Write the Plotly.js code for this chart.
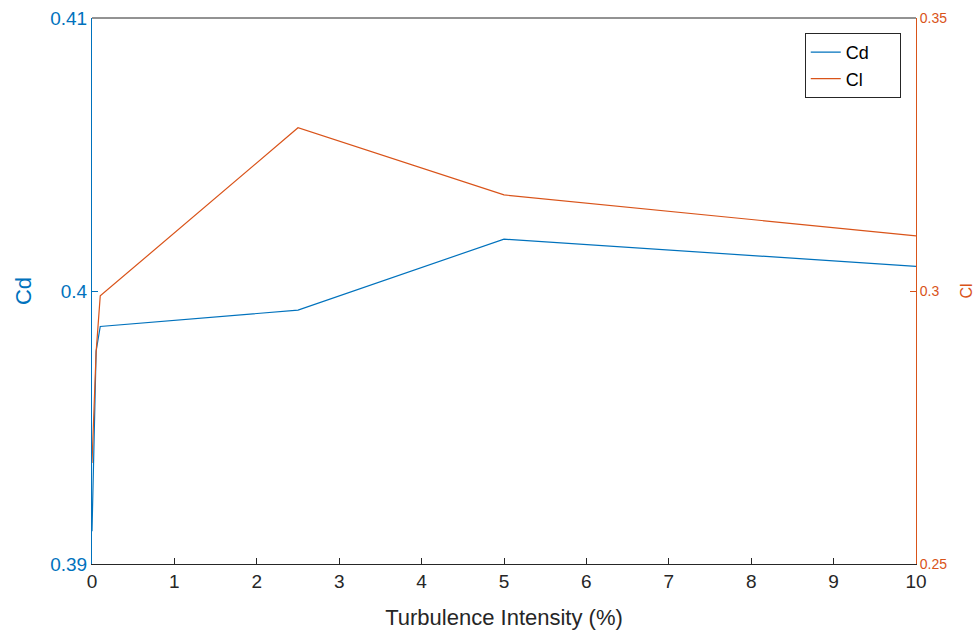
<!DOCTYPE html>
<html><head><meta charset="utf-8">
<script src="https://cdn.plot.ly/plotly-3.0.1.min.js"></script>
<style>body{margin:0;background:#fff}#chart{width:980px;height:636px}</style>
</head><body><div id="chart"></div>
<script>
const turbulence = [0, 0.05, 0.1, 2.5, 5, 10];
const cdValues = [0.3912, 0.3978, 0.3987, 0.3993, 0.4019, 0.4009];
const clValues = [0.2685, 0.2888, 0.2991, 0.3299, 0.3176, 0.3101];
const xTicks = [0,1,2,3,4,5,6,7,8,9,10];
const cdTicks = [0.39, 0.40, 0.41];
const cdTickText = ['0.39', '0.4', '0.41'];
const clTicks = [0.25, 0.30, 0.35];
const clTickText = ['0.25', '0.3', '0.35'];
const seriesNames = ['Cd', 'Cl'];

const blue = '#0072BD', orange = '#D95319', dark = '#262626';
const font = 'Liberation Sans, Arial, Helvetica, sans-serif';
const pad = '\u00a0\u00a0\u00a0\u00a0\u00a0';

const traces = [
  {x: turbulence, y: cdValues, name: seriesNames[0] + pad, mode: 'lines', line: {color: blue, width: 1.2}, yaxis: 'y'},
  {x: turbulence, y: clValues, name: seriesNames[1] + pad + '\u00a0', mode: 'lines', line: {color: orange, width: 1.2}, yaxis: 'y2'}
];

const layout = {
  width: 980, height: 636,
  margin: {l: 92, r: 64, t: 18, b: 72},
  paper_bgcolor: '#fff', plot_bgcolor: '#fff',
  font: {family: font, color: dark},
  showlegend: true,
  legend: {x: 0.865, y: 0.9725, xanchor: 'left', yanchor: 'top', bgcolor: '#fff',
           bordercolor: dark, borderwidth: 1, font: {size: 18, color: '#000'}, tracegroupgap: 0},
  xaxis: {range: [0, 10], tickvals: xTicks, ticks: 'inside', ticklen: 6, tickcolor: dark,
          showline: true, linecolor: dark, linewidth: 1, showgrid: false, zeroline: false,
          tickfont: {size: 19, color: dark},
          title: {text: 'Turbulence Intensity (%)', font: {size: 22, color: dark}, standoff: 18}},
  yaxis: {range: [0.39, 0.41], tickvals: cdTicks, ticktext: cdTickText, ticks: 'inside', ticklen: 6,
          tickcolor: blue, showline: true, linecolor: blue, linewidth: 1, showgrid: false, zeroline: false,
          tickfont: {size: 19, color: blue},
          title: {text: 'Cd', font: {size: 22, color: blue}, standoff: 12}},
  yaxis2: {range: [0.25, 0.35], tickvals: clTicks, ticktext: clTickText, overlaying: 'y', side: 'right',
           ticks: 'inside', ticklen: 6, tickcolor: orange, showline: true, linecolor: orange, linewidth: 1,
           showgrid: false, zeroline: false, tickfont: {size: 14, color: orange},
           title: {text: 'Cl', font: {size: 16, color: orange}, standoff: 14}},
  shapes: [{type: 'line', xref: 'paper', yref: 'paper', x0: 0, x1: 1, y0: 1, y1: 1,
            line: {color: dark, width: 1}}]
};
Plotly.newPlot('chart', traces, layout, {displayModeBar: false});
</script></body></html>
